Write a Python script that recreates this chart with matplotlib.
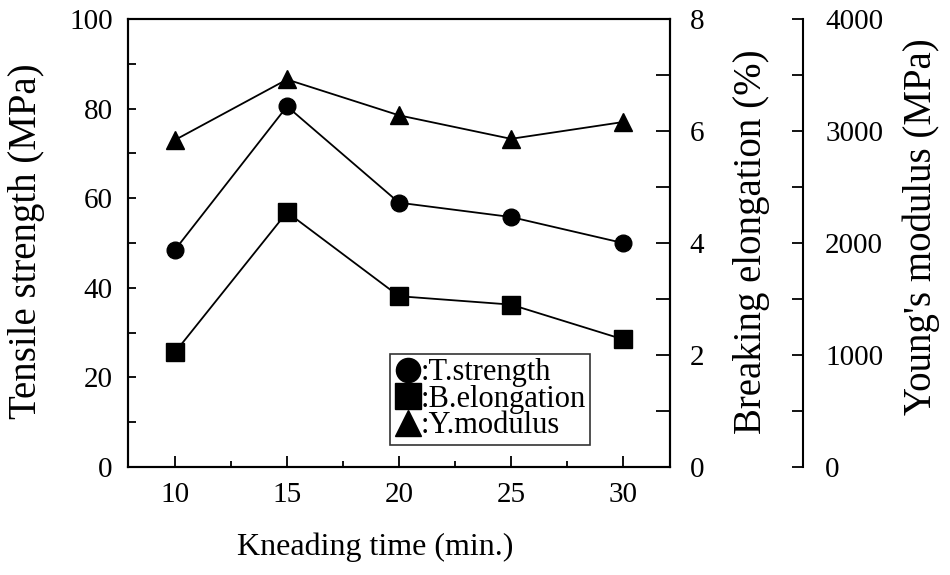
import matplotlib
matplotlib.use('Agg')
import matplotlib.pyplot as plt

# ---- data ----
time = [10, 15, 20, 25, 30]
tensile = [48.5, 80.5, 59.0, 55.8, 50.0]          # MPa
elongation = [2.05, 4.55, 3.05, 2.90, 2.28]       # %
young = [2920, 3460, 3140, 2930, 3080]            # MPa

x_ticks = [10, 15, 20, 25, 30]
x_minor = [12.5, 17.5, 22.5, 27.5]
left_ticks = [0, 20, 40, 60, 80, 100]
left_minor = [10, 30, 50, 70, 90]
elong_ticks = [0, 2, 4, 6, 8]
elong_minor = [1, 3, 5, 7]
young_ticks = [0, 1000, 2000, 3000, 4000]
young_minor = [500, 1500, 2500, 3500]

labels = [':T.strength', ':B.elongation', ':Y.modulus']

plt.rcParams['font.family'] = ['Liberation Serif', 'DejaVu Serif']

fig = plt.figure(figsize=(9.5, 5.75), dpi=100)
ax = fig.add_axes([128/950, 1-467/575, 542/950, 448/575])
ax2 = ax.twinx()
ax3 = ax.twinx()

lw_sp = 1.5
for a in (ax, ax2, ax3):
    for s in a.spines.values():
        s.set_linewidth(lw_sp)

TICK_FS = 21
YLAB_FS = 28

# main axis
l1, = ax.plot(time, tensile, color='black', lw=1.3, marker='o', ms=12,
              label=labels[0], zorder=3)
ax.set_xlim(7.9, 32.1)
ax.set_ylim(0, 100)
ax.set_xticks(x_ticks)
ax.set_xticks(x_minor, minor=True)
ax.set_yticks(left_ticks)
ax.set_yticks(left_minor, minor=True)
ax.tick_params(axis='x', which='major', direction='in', length=8, width=1.3,
               labelsize=TICK_FS, pad=11)
ax.tick_params(axis='x', which='minor', direction='in', length=4, width=1.3)
ax.tick_params(axis='y', which='both', direction='in', length=6, width=1.3,
               labelsize=TICK_FS, pad=11)
ax.set_xlabel('Kneading time (min.)', fontsize=23)
ax.xaxis.set_label_coords((375-128)/542, (467-532)/448)
ax.set_ylabel('Tensile strength (MPa)', fontsize=YLAB_FS)
ax.yaxis.set_label_coords((45-128)/542, (467-241)/448)

# elongation axis
l2, = ax2.plot(time, elongation, color='black', lw=1.3, marker='s', ms=13,
               label=labels[1], zorder=3)
ax2.set_ylim(0, 8)
ax2.set_yticks(elong_ticks)
ax2.set_yticks(elong_minor, minor=True)
ax2.tick_params(axis='y', which='both', direction='in', length=10, width=1.3,
                labelsize=TICK_FS, pad=14)
ax2.set_ylabel('Breaking elongation (%)', fontsize=YLAB_FS)
ax2.yaxis.set_label_coords((733-128)/542, (467-242)/448)

# young's modulus axis
ax3.spines['right'].set_position(('axes', (803-128)/542))
for k in ('top', 'left', 'bottom'):
    ax3.spines[k].set_visible(False)
ax3.patch.set_visible(False)
l3, = ax3.plot(time, young, color='black', lw=1.3, marker='^', ms=13,
               label=labels[2], zorder=3)
ax3.set_ylim(0, 4000)
ax3.set_yticks(young_ticks)
ax3.set_yticks(young_minor, minor=True)
ax3.tick_params(axis='y', which='both', direction='in', length=8, width=1.3,
                labelsize=TICK_FS, pad=16)
ax3.set_ylabel("Young's modulus (MPa)", fontsize=YLAB_FS)
ax3.yaxis.set_label_coords((902-128)/542, (467-227)/448)

leg = ax3.legend([l1, l2, l3], labels, loc='lower left',
                 bbox_to_anchor=((390-128)/542, (467-445)/448),
                 frameon=True, fancybox=False, edgecolor='black',
                 fontsize=22, labelspacing=-0.08, handlelength=0.85,
                 handletextpad=0.0, borderpad=0.15, borderaxespad=0,
                 markerscale=1.45)
leg.get_frame().set_linewidth(1.2)
for h in leg.legend_handles:
    h.set_linestyle('none')

fig.savefig('out.png', dpi=100)
